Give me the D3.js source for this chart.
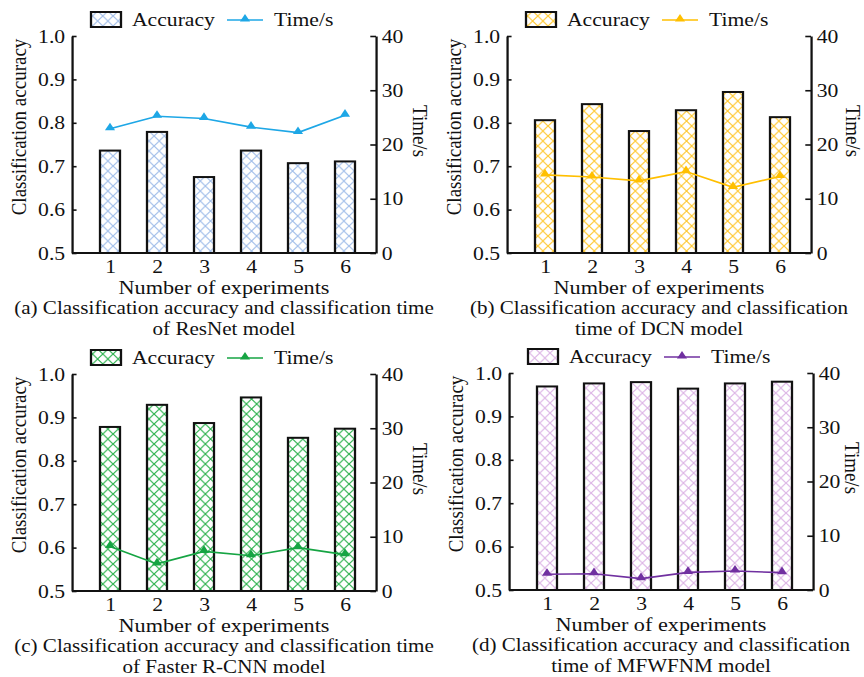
<!DOCTYPE html>
<html>
<head>
<meta charset="utf-8">
<script src="https://cdn.jsdelivr.net/npm/d3@7"></script>
<style>
  body { margin: 0; background: #fff; }
  svg text { font-family: "Liberation Serif", "Times New Roman", serif; fill: #111; }
</style>
</head>
<body>
<svg id="chart"></svg>
<script>
// experiments on the x axis
const categories = [1, 2, 3, 4, 5, 6];
const accTicks = [0.5, 0.6, 0.7, 0.8, 0.9, 1.0];
const timeTicks = [0, 10, 20, 30, 40];

const accResNet = [0.736, 0.779, 0.675, 0.736, 0.707, 0.711];
const timeResNet = [22.9, 25.2, 24.8, 23.2, 22.2, 25.4];
const accDCN = [0.806, 0.843, 0.781, 0.829, 0.871, 0.813];
const timeDCN = [14.4, 14.0, 13.3, 15.0, 12.1, 14.1];
const accFaster = [0.878, 0.929, 0.887, 0.946, 0.853, 0.874];
const timeFaster = [8.2, 5.0, 7.3, 6.5, 8.0, 6.7];
const accMFWFNM = [0.969, 0.976, 0.979, 0.964, 0.976, 0.980];
const timeMFWFNM = [2.9, 3.0, 2.1, 3.25, 3.5, 3.2];

// the source picture is stretched sideways, so the svg is too
const SX = 1.14;
const X = v => v / SX;
const W = 864, H = 677;
const plotW = 304, plotH = 217;

const svg = d3.select('#chart')
  .attr('width', W)
  .attr('height', H)
  .attr('viewBox', `0 0 ${W / SX} ${H}`)
  .attr('preserveAspectRatio', 'none');

const panels = [
  {id: 'a', left: 72, top: 36, acc: accResNet, time: timeResNet, hatch: '#a3bfea', line: '#1ea7e6', tOff: 37,
   caption: ['(a) Classification accuracy and classification time', 'of ResNet model']},
  {id: 'b', left: 507, top: 36, acc: accDCN, time: timeDCN, hatch: '#ffc933', line: '#ffbf00', tOff: 35,
   caption: ['(b) Classification accuracy and classification', 'time of DCN model']},
  {id: 'c', left: 72, top: 374, acc: accFaster, time: timeFaster, hatch: '#2fb350', line: '#16a443', tOff: 37,
   caption: ['(c) Classification accuracy and classification time', 'of Faster R-CNN model']},
  {id: 'd', left: 509, top: 373, acc: accMFWFNM, time: timeMFWFNM, hatch: '#ddb6e6', line: '#7030a0', tOff: 32,
   caption: ['(d) Classification accuracy and classification', 'time of MFWFNM model']}
];

const defs = svg.append('defs');
panels.forEach(p => {
  const pat = defs.append('pattern')
    .attr('id', 'hatch-' + p.id)
    .attr('patternUnits', 'userSpaceOnUse')
    .attr('width', 9)
    .attr('height', 10);
  pat.append('rect').attr('width', 9).attr('height', 10).attr('fill', '#fff');
  pat.append('path')
    .attr('d', 'M0,0L9,10M9,0L0,10')
    .attr('stroke', p.hatch)
    .attr('stroke-width', 1.1)
    .attr('fill', 'none');
});

const tri = d3.symbol(d3.symbolTriangle).size(34);

function drawPanel(p) {
  const g = svg.append('g').attr('transform', `translate(${X(p.left)},${p.top})`);
  const w = X(plotW);

  const x = d3.scalePoint().domain(categories).range([X(38), X(273)]);
  const y = d3.scaleLinear().domain([0.5, 1.0]).range([plotH, 0]);
  const yR = d3.scaleLinear().domain([0, 40]).range([plotH, 0]);
  const bw = X(20);

  // bars
  g.selectAll('rect.bar')
    .data(categories)
    .join('rect')
    .attr('class', 'bar')
    .attr('x', d => x(d) - bw / 2)
    .attr('y', (d, i) => y(p.acc[i]))
    .attr('width', bw)
    .attr('height', (d, i) => plotH - y(p.acc[i]))
    .attr('fill', `url(#hatch-${p.id})`)
    .attr('stroke', '#111')
    .attr('stroke-width', 2);

  // time line
  const line = d3.line()
    .x((d, i) => x(categories[i]))
    .y(d => yR(d));
  g.append('path')
    .datum(p.time)
    .attr('d', line)
    .attr('fill', 'none')
    .attr('stroke', p.line)
    .attr('stroke-width', 1.6);
  g.selectAll('path.mk')
    .data(p.time)
    .join('path')
    .attr('class', 'mk')
    .attr('d', tri)
    .attr('transform', (d, i) => `translate(${x(categories[i])},${yR(d) - 1})`)
    .attr('fill', p.line);

  // axes
  const left = g.append('g')
    .call(d3.axisLeft(y).tickValues(accTicks).tickFormat(d3.format('.1f'))
      .tickSize(-4).tickSizeOuter(0).tickPadding(6));
  const right = g.append('g')
    .attr('transform', `translate(${w},0)`)
    .call(d3.axisRight(yR).tickValues(timeTicks)
      .tickSize(-5).tickSizeOuter(0).tickPadding(5));
  const bottom = g.append('g')
    .attr('transform', `translate(0,${plotH})`)
    .call(d3.axisBottom(x).tickSize(0).tickPadding(6.5));
  bottom.select('.domain').remove();
  g.append('line')
    .attr('x1', 0).attr('x2', w)
    .attr('y1', plotH).attr('y2', plotH)
    .attr('stroke', '#111').attr('stroke-width', 2);

  [left, right, bottom].forEach(a => {
    a.selectAll('text')
      .attr('font-size', 19)
      .attr('font-family', '"Liberation Serif", "Times New Roman", serif')
      .attr('fill', '#111');
    a.selectAll('.domain').attr('stroke', '#111').attr('stroke-width', 2);
    a.selectAll('.tick line').attr('stroke', '#111').attr('stroke-width', 1.6);
  });

  // axis titles
  g.append('text')
    .attr('transform', `translate(${X(-46)},${91}) rotate(-90)`)
    .attr('text-anchor', 'middle')
    .attr('font-size', 19)
    .text('Classification accuracy');
  g.append('text')
    .attr('transform', `translate(${w + X(p.tOff)},${95}) rotate(90)`)
    .attr('text-anchor', 'middle')
    .attr('font-size', 19)
    .text('Time/s');
  g.append('text')
    .attr('x', w / 2)
    .attr('y', plotH + 41)
    .attr('text-anchor', 'middle')
    .attr('font-size', 19.5)
    .text('Number of experiments');

  // caption
  p.caption.forEach((t, i) => {
    g.append('text')
      .attr('x', w / 2)
      .attr('y', plotH + 61 + i * 21.5)
      .attr('text-anchor', 'middle')
      .attr('font-size', 18.5)
      .text(t);
  });

  // legend
  const lg = g.append('g');
  lg.append('rect')
    .attr('x', X(19)).attr('y', -24)
    .attr('width', X(30)).attr('height', 15)
    .attr('fill', `url(#hatch-${p.id})`)
    .attr('stroke', '#111').attr('stroke-width', 2);
  lg.append('text')
    .attr('x', X(60)).attr('y', -10)
    .attr('font-size', 19)
    .text('Accuracy');
  lg.append('line')
    .attr('x1', X(155)).attr('x2', X(191))
    .attr('y1', -16).attr('y2', -16)
    .attr('stroke', p.line).attr('stroke-width', 1.6);
  lg.append('path')
    .attr('d', tri)
    .attr('transform', `translate(${X(173)},-17)`)
    .attr('fill', p.line);
  lg.append('text')
    .attr('x', X(202)).attr('y', -10)
    .attr('font-size', 19)
    .text('Time/s');
}

panels.forEach(drawPanel);
</script>
</body>
</html>
